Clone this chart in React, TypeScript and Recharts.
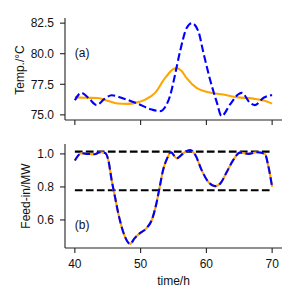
import React from 'react';
import { LineChart, Line, XAxis, YAxis, ReferenceDot } from 'recharts';

// Top panel: temperature (reference = orange solid, controlled = blue dashed)
const tempRefTime = [40, 41.5, 43.5, 45, 46.5, 48, 49.5, 50.7, 52.2, 53.7, 55.0, 55.5, 56.2, 57.0, 58.5, 60.0, 62.6, 64.6, 67.1, 69.2, 70];
const tempRef = [76.45, 76.4, 76.38, 76.15, 75.93, 75.9, 76.02, 76.25, 76.8, 78.0, 78.75, 78.82, 78.6, 78.0, 77.2, 76.88, 76.66, 76.45, 76.33, 76.1, 75.92];

const tempCtrlTime = [40, 41.0, 42.2, 43.3, 44.5, 45.6, 47.6, 49.6, 51.7, 52.9, 53.8, 54.5, 55.2, 56.0, 57.0, 57.8, 58.8, 59.5, 60.5, 61.6, 62.3, 63.6, 64.9, 65.4, 66.6, 67.4, 68.7, 69.9, 70];
const tempCtrl = [76.2, 76.8, 76.3, 75.8, 76.3, 76.6, 76.3, 75.9, 75.43, 75.3, 75.7, 76.6, 78.2, 80.2, 82.1, 82.5, 81.8, 80.2, 78.0, 76.0, 74.9, 75.85, 76.7, 76.8, 76.0, 75.8, 76.4, 76.6, 76.6];

// Bottom panel: feed-in
const feedTime = [40, 41, 42, 43, 43.8, 44.6, 45.1, 45.6, 46.1, 46.6, 47.1, 47.6, 48.4, 49.1, 49.9, 50.9, 51.7, 52.4, 52.9, 53.4, 54.0, 54.6, 55.5, 56.5, 57.5, 58.3, 59.3, 60.3, 61.3, 62.1, 63.1, 64.1, 65.1, 66.4, 67.7, 68.9, 69.4, 70];
const feedIn = [0.96, 1.004, 1.0, 0.998, 1.01, 1.005, 0.96, 0.84, 0.74, 0.64, 0.56, 0.50, 0.455, 0.49, 0.52, 0.55, 0.60, 0.70, 0.80, 0.90, 0.97, 1.01, 0.974, 1.004, 1.024, 0.995, 0.90, 0.83, 0.805, 0.82, 0.89, 0.964, 1.008, 1.0, 1.01, 1.0, 0.93, 0.80];

const limitTime = [40, 70];
const upperLimit = [1.014, 1.014];
const lowerLimit = [0.78, 0.78];

const xTicks = [40, 50, 60, 70];
const tempTicks = [75, 77.5, 80, 82.5];
const feedTicks = [0.6, 0.8, 1.0];

const zip = (ts: number[], vs: number[]) => ts.map((t, i) => ({ t, v: vs[i] }));

const refData = zip(tempRefTime, tempRef);
const ctrlData = zip(tempCtrlTime, tempCtrl);
const feedData = zip(feedTime, feedIn);
const upperData = zip(limitTime, upperLimit);
const lowerData = zip(limitTime, lowerLimit);

const FONT = '"Liberation Sans", Arial, sans-serif';
const FS = 12;
const AX = '#222';
const tickStyle = { fontSize: FS, fill: '#111', fontFamily: FONT };

const VLabel = (props: any) => {
  const vb = props.viewBox || {};
  const cy = vb.y + vb.height / 2 + (props.shift || 0);
  const cx = props.cx;
  return (
    <text x={cx} y={cy} transform={`rotate(-90 ${cx} ${cy})`} textAnchor="middle"
      fontSize={FS} fill="#111" fontFamily={FONT}>{props.text}</text>
  );
};

const HLabel = (props: any) => {
  const vb = props.viewBox || {};
  const cx = vb.x + vb.width / 2;
  return (
    <text x={cx} y={vb.y + props.dyy} textAnchor="middle"
      fontSize={FS} fill="#111" fontFamily={FONT}>{props.text}</text>
  );
};

export default function App() {
  return (
    <div style={{ position: 'absolute', left: 0, top: 0, width: 300, height: 300, background: '#fff', fontFamily: FONT }}>
      <div style={{ position: 'absolute', left: 0, top: 0 }}>
        <LineChart width={300} height={130} margin={{ top: 18, right: 18, bottom: 0, left: 0 }}>
          <XAxis dataKey="t" type="number" domain={[38.5, 71.5]} ticks={xTicks} allowDataOverflow
            tickFormatter={() => ''} tickSize={5} height={10} stroke={AX} strokeWidth={1.1} tick={tickStyle} />
          <XAxis xAxisId="top" orientation="top" dataKey="t" type="number" domain={[38.5, 71.5]} allowDataOverflow
            height={0} tick={false} tickLine={false} stroke={AX} strokeWidth={1.1} />
          <YAxis type="number" domain={[74.58, 82.92]} ticks={tempTicks} allowDataOverflow width={65}
            tickSize={5} tickMargin={6} stroke={AX} strokeWidth={1.1} tick={tickStyle}
            tickFormatter={(v: number) => v.toFixed(1)}
            label={{ content: (p: any) => <VLabel {...p} cx={23.8} shift={1} text="Temp./°C" /> }} />
          <YAxis yAxisId="right" orientation="right" type="number" domain={[74.58, 82.92]} width={0}
            tick={false} tickLine={false} stroke={AX} strokeWidth={1.1} />
          <Line data={refData} dataKey="v" type="monotone" stroke="#FFA500" strokeWidth={2.1} dot={false} isAnimationActive={false} />
          <Line data={ctrlData} dataKey="v" type="monotone" stroke="#0000FF" strokeWidth={2.1} strokeDasharray="7.7 3.3" dot={false} isAnimationActive={false} />
          <ReferenceDot x={40} y={80.05} r={0} fill="none" stroke="none"
            label={{ value: '(a)', position: 'right', offset: 0, fontSize: FS, fill: '#111', fontFamily: FONT }} />
        </LineChart>
      </div>
      <div style={{ position: 'absolute', left: 0, top: 130 }}>
        <LineChart width={300} height={170} margin={{ top: 14, right: 18, bottom: 0, left: 0 }}>
          <XAxis dataKey="t" type="number" domain={[38.5, 71.5]} ticks={xTicks} allowDataOverflow
            tickSize={5} tickMargin={6} height={52} stroke={AX} strokeWidth={1.1} tick={tickStyle}
            label={{ content: (p: any) => <HLabel {...p} dyy={36.5} text="time/h" /> }} />
          <XAxis xAxisId="top" orientation="top" dataKey="t" type="number" domain={[38.5, 71.5]} allowDataOverflow
            height={0} tick={false} tickLine={false} stroke={AX} strokeWidth={1.1} />
          <YAxis type="number" domain={[0.43, 1.06]} ticks={feedTicks} allowDataOverflow width={65}
            tickSize={5} tickMargin={6} stroke={AX} strokeWidth={1.1} tick={tickStyle}
            tickFormatter={(v: number) => v.toFixed(1)}
            label={{ content: (p: any) => <VLabel {...p} cx={29.5} text="Feed-in/MW" /> }} />
          <YAxis yAxisId="right" orientation="right" type="number" domain={[0.43, 1.06]} width={0}
            tick={false} tickLine={false} stroke={AX} strokeWidth={1.1} />
          <Line data={upperData} dataKey="v" type="linear" stroke="#000" strokeWidth={2.1} strokeDasharray="7.7 3.3" dot={false} isAnimationActive={false} />
          <Line data={lowerData} dataKey="v" type="linear" stroke="#000" strokeWidth={2.1} strokeDasharray="7.7 3.3" dot={false} isAnimationActive={false} />
          <Line data={feedData} dataKey="v" type="monotone" stroke="#FFA500" strokeWidth={2.1} dot={false} isAnimationActive={false} />
          <Line data={feedData} dataKey="v" type="monotone" stroke="#0000FF" strokeWidth={2.1} strokeDasharray="7.7 3.3" dot={false} isAnimationActive={false} />
          <ReferenceDot x={40} y={0.57} r={0} fill="none" stroke="none"
            label={{ value: '(b)', position: 'right', offset: 0, fontSize: FS, fill: '#111', fontFamily: FONT }} />
        </LineChart>
      </div>
    </div>
  );
}
